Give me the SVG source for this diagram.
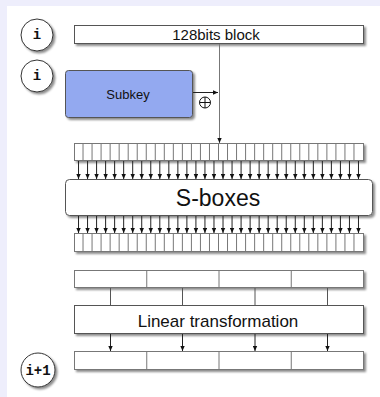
<svg xmlns="http://www.w3.org/2000/svg" width="380" height="397" viewBox="0 0 380 397">
  <defs>
    <filter id="shadow" x="-10%" y="-20%" width="130%" height="160%">
      <feDropShadow dx="2" dy="2" stdDeviation="1.2" flood-color="#000" flood-opacity="0.45"/>
    </filter>
    <marker id="head" markerUnits="userSpaceOnUse" markerWidth="5" markerHeight="5" refX="5" refY="2.5" orient="auto">
      <path d="M0,0.3 L5,2.5 L0,4.7 z" fill="#111"/>
    </marker>
  </defs>
  <style>
    .box { fill: #fff; stroke: #555; stroke-width: 1; filter: url(#shadow); }
    .cells { fill: #fff; stroke: #777; stroke-width: 1; filter: url(#shadow); }
    .div { stroke: #777; stroke-width: 1; fill: none; }
    .badge { fill: #fff; stroke: #333; stroke-width: 1; filter: url(#shadow); }
    .badge-t { font-family: "Liberation Mono", "DejaVu Sans Mono", monospace; font-weight: bold; font-size: 14px; fill: #111; text-anchor: middle; }
    .lbl { font-family: "Liberation Sans", Arial, sans-serif; fill: #111; text-anchor: middle; }
    .arr { stroke: #222; stroke-width: 1; fill: none; marker-end: url(#head); }
    .plain { stroke: #555; stroke-width: 1; fill: none; }
  </style>

  <!-- page background with a light frame -->
  <rect x="0" y="0" width="380" height="397" fill="#eeeefc"/>
  <rect x="7" y="6" width="373" height="391" fill="#fff"/>

  <!-- round counters -->
  <g id="round-i-top">
    <circle class="badge" cx="37" cy="35" r="16"/>
    <text class="badge-t" x="37" y="39">i</text>
  </g>
  <g id="round-i-key">
    <circle class="badge" cx="37" cy="76" r="16"/>
    <text class="badge-t" x="37" y="80">i</text>
  </g>
  <g id="round-next">
    <circle class="badge" cx="38" cy="370" r="17"/>
    <text class="badge-t" x="38" y="374.5">i+1</text>
  </g>

  <!-- input block -->
  <g id="block">
    <rect class="box" x="74.5" y="25.5" width="289" height="18"/>
    <text class="lbl" x="216" y="40" font-size="15">128bits block</text>
  </g>

  <!-- subkey -->
  <g id="subkey">
    <rect x="65.5" y="70.5" width="127" height="47" rx="3" fill="#93a9f0" stroke="#555" stroke-width="1" filter="url(#shadow)"/>
    <text class="lbl" x="128" y="99" font-size="13">Subkey</text>
  </g>

  <!-- xor symbol -->
  <g id="xor">
    <circle cx="205" cy="102.5" r="5.5" fill="#fff" stroke="#111" stroke-width="1"/>
    <path d="M199.5 102.5 H210.5 M205 97 V108" stroke="#111" stroke-width="1"/>
  </g>

  <!-- 32 input bits -->
  <g id="bits-in">
    <rect class="cells" x="74.5" y="143.5" width="289" height="17"/>
    <path class="div" d="M83.03 143.5V160.5 M92.06 143.5V160.5 M101.09 143.5V160.5 M110.13 143.5V160.5 M119.16 143.5V160.5 M128.19 143.5V160.5 M137.22 143.5V160.5 M146.25 143.5V160.5 M155.28 143.5V160.5 M164.31 143.5V160.5 M173.34 143.5V160.5 M182.38 143.5V160.5 M191.41 143.5V160.5 M200.44 143.5V160.5 M209.47 143.5V160.5 M218.5 143.5V160.5 M227.53 143.5V160.5 M236.56 143.5V160.5 M245.59 143.5V160.5 M254.63 143.5V160.5 M263.66 143.5V160.5 M272.69 143.5V160.5 M281.72 143.5V160.5 M290.75 143.5V160.5 M299.78 143.5V160.5 M308.81 143.5V160.5 M317.84 143.5V160.5 M326.88 143.5V160.5 M335.91 143.5V160.5 M344.94 143.5V160.5 M353.97 143.5V160.5"/>
  </g>

  <!-- substitution layer -->
  <g id="sboxes">
    <rect class="box" x="65.5" y="179.5" width="307" height="36" rx="4"/>
    <text class="lbl" x="218" y="206" font-size="23">S-boxes</text>
  </g>

  <!-- 32 output bits -->
  <g id="bits-out">
    <rect class="cells" x="74.5" y="233.5" width="289" height="18"/>
    <path class="div" d="M83.03 233.5V251.5 M92.06 233.5V251.5 M101.09 233.5V251.5 M110.13 233.5V251.5 M119.16 233.5V251.5 M128.19 233.5V251.5 M137.22 233.5V251.5 M146.25 233.5V251.5 M155.28 233.5V251.5 M164.31 233.5V251.5 M173.34 233.5V251.5 M182.38 233.5V251.5 M191.41 233.5V251.5 M200.44 233.5V251.5 M209.47 233.5V251.5 M218.5 233.5V251.5 M227.53 233.5V251.5 M236.56 233.5V251.5 M245.59 233.5V251.5 M254.63 233.5V251.5 M263.66 233.5V251.5 M272.69 233.5V251.5 M281.72 233.5V251.5 M290.75 233.5V251.5 M299.78 233.5V251.5 M308.81 233.5V251.5 M317.84 233.5V251.5 M326.88 233.5V251.5 M335.91 233.5V251.5 M344.94 233.5V251.5 M353.97 233.5V251.5"/>
  </g>

  <!-- four words before the linear layer -->
  <g id="words-in">
    <rect class="cells" x="74.5" y="270.5" width="289" height="17"/>
    <path class="div" d="M146.75 270.5V287.5 M219 270.5V287.5 M291.25 270.5V287.5"/>
  </g>

  <!-- linear layer -->
  <g id="linear">
    <rect class="box" x="74.5" y="305.5" width="289" height="28"/>
    <text class="lbl" x="218" y="327" font-size="17">Linear transformation</text>
  </g>

  <!-- four words after the linear layer -->
  <g id="words-out">
    <rect class="cells" x="74.5" y="351.5" width="289" height="18"/>
    <path class="div" d="M146.75 351.5V369.5 M219 351.5V369.5 M291.25 351.5V369.5"/>
  </g>

  <g id="connectors">
    <!-- block and subkey into the bit row -->
    <line x1="219.5" y1="44" x2="219.5" y2="143" stroke="#777" stroke-width="1" marker-end="url(#head)"/>
    <line class="arr" x1="193" y1="92.5" x2="218" y2="92.5"/>

    <!-- bits into the S-boxes -->
    <g class="to-sbox">
      <line class="arr" x1="78.52" y1="161" x2="78.52" y2="179"/>
      <line class="arr" x1="87.55" y1="161" x2="87.55" y2="179"/>
      <line class="arr" x1="96.58" y1="161" x2="96.58" y2="179"/>
      <line class="arr" x1="105.61" y1="161" x2="105.61" y2="179"/>
      <line class="arr" x1="114.64" y1="161" x2="114.64" y2="179"/>
      <line class="arr" x1="123.67" y1="161" x2="123.67" y2="179"/>
      <line class="arr" x1="132.70" y1="161" x2="132.70" y2="179"/>
      <line class="arr" x1="141.73" y1="161" x2="141.73" y2="179"/>
      <line class="arr" x1="150.77" y1="161" x2="150.77" y2="179"/>
      <line class="arr" x1="159.80" y1="161" x2="159.80" y2="179"/>
      <line class="arr" x1="168.83" y1="161" x2="168.83" y2="179"/>
      <line class="arr" x1="177.86" y1="161" x2="177.86" y2="179"/>
      <line class="arr" x1="186.89" y1="161" x2="186.89" y2="179"/>
      <line class="arr" x1="195.92" y1="161" x2="195.92" y2="179"/>
      <line class="arr" x1="204.95" y1="161" x2="204.95" y2="179"/>
      <line class="arr" x1="213.98" y1="161" x2="213.98" y2="179"/>
      <line class="arr" x1="223.02" y1="161" x2="223.02" y2="179"/>
      <line class="arr" x1="232.05" y1="161" x2="232.05" y2="179"/>
      <line class="arr" x1="241.08" y1="161" x2="241.08" y2="179"/>
      <line class="arr" x1="250.11" y1="161" x2="250.11" y2="179"/>
      <line class="arr" x1="259.14" y1="161" x2="259.14" y2="179"/>
      <line class="arr" x1="268.17" y1="161" x2="268.17" y2="179"/>
      <line class="arr" x1="277.20" y1="161" x2="277.20" y2="179"/>
      <line class="arr" x1="286.23" y1="161" x2="286.23" y2="179"/>
      <line class="arr" x1="295.27" y1="161" x2="295.27" y2="179"/>
      <line class="arr" x1="304.30" y1="161" x2="304.30" y2="179"/>
      <line class="arr" x1="313.33" y1="161" x2="313.33" y2="179"/>
      <line class="arr" x1="322.36" y1="161" x2="322.36" y2="179"/>
      <line class="arr" x1="331.39" y1="161" x2="331.39" y2="179"/>
      <line class="arr" x1="340.42" y1="161" x2="340.42" y2="179"/>
      <line class="arr" x1="349.45" y1="161" x2="349.45" y2="179"/>
      <line class="arr" x1="358.48" y1="161" x2="358.48" y2="179"/>
    </g>

    <!-- S-boxes into the output bits -->
    <g class="from-sbox">
      <line class="arr" x1="78.52" y1="216" x2="78.52" y2="233"/>
      <line class="arr" x1="87.55" y1="216" x2="87.55" y2="233"/>
      <line class="arr" x1="96.58" y1="216" x2="96.58" y2="233"/>
      <line class="arr" x1="105.61" y1="216" x2="105.61" y2="233"/>
      <line class="arr" x1="114.64" y1="216" x2="114.64" y2="233"/>
      <line class="arr" x1="123.67" y1="216" x2="123.67" y2="233"/>
      <line class="arr" x1="132.70" y1="216" x2="132.70" y2="233"/>
      <line class="arr" x1="141.73" y1="216" x2="141.73" y2="233"/>
      <line class="arr" x1="150.77" y1="216" x2="150.77" y2="233"/>
      <line class="arr" x1="159.80" y1="216" x2="159.80" y2="233"/>
      <line class="arr" x1="168.83" y1="216" x2="168.83" y2="233"/>
      <line class="arr" x1="177.86" y1="216" x2="177.86" y2="233"/>
      <line class="arr" x1="186.89" y1="216" x2="186.89" y2="233"/>
      <line class="arr" x1="195.92" y1="216" x2="195.92" y2="233"/>
      <line class="arr" x1="204.95" y1="216" x2="204.95" y2="233"/>
      <line class="arr" x1="213.98" y1="216" x2="213.98" y2="233"/>
      <line class="arr" x1="223.02" y1="216" x2="223.02" y2="233"/>
      <line class="arr" x1="232.05" y1="216" x2="232.05" y2="233"/>
      <line class="arr" x1="241.08" y1="216" x2="241.08" y2="233"/>
      <line class="arr" x1="250.11" y1="216" x2="250.11" y2="233"/>
      <line class="arr" x1="259.14" y1="216" x2="259.14" y2="233"/>
      <line class="arr" x1="268.17" y1="216" x2="268.17" y2="233"/>
      <line class="arr" x1="277.20" y1="216" x2="277.20" y2="233"/>
      <line class="arr" x1="286.23" y1="216" x2="286.23" y2="233"/>
      <line class="arr" x1="295.27" y1="216" x2="295.27" y2="233"/>
      <line class="arr" x1="304.30" y1="216" x2="304.30" y2="233"/>
      <line class="arr" x1="313.33" y1="216" x2="313.33" y2="233"/>
      <line class="arr" x1="322.36" y1="216" x2="322.36" y2="233"/>
      <line class="arr" x1="331.39" y1="216" x2="331.39" y2="233"/>
      <line class="arr" x1="340.42" y1="216" x2="340.42" y2="233"/>
      <line class="arr" x1="349.45" y1="216" x2="349.45" y2="233"/>
      <line class="arr" x1="358.48" y1="216" x2="358.48" y2="233"/>
    </g>

    <!-- words into the linear layer -->
    <path class="plain" d="M110.5 288V305 M182.5 288V305 M255 288V305 M327.5 288V305"/>

    <!-- linear layer into the next words -->
    <line class="arr" x1="110.5" y1="334" x2="110.5" y2="351"/>
    <line class="arr" x1="182.5" y1="334" x2="182.5" y2="351"/>
    <line class="arr" x1="255" y1="334" x2="255" y2="351"/>
    <line class="arr" x1="327.5" y1="334" x2="327.5" y2="351"/>
  </g>
</svg>
